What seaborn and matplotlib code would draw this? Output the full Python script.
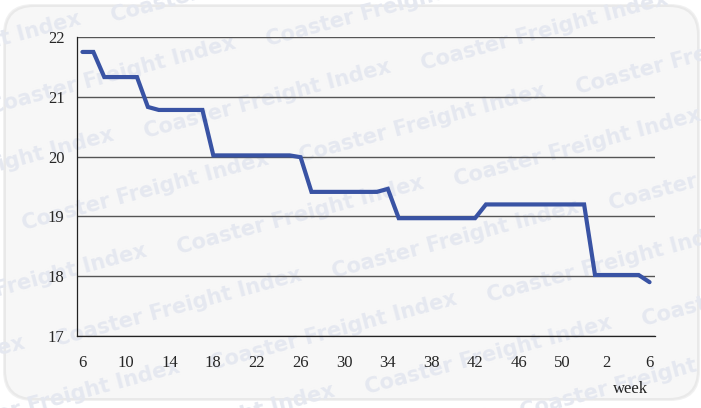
import matplotlib
matplotlib.use("Agg")
import matplotlib.pyplot as plt
from matplotlib.patches import FancyBboxPatch
import pandas as pd
import seaborn as sns

# Week numbers: week 6 of one year through week 6 of the next
weeks = [6, 7, 8, 9, 10, 11, 12, 13, 14, 15, 16, 17, 18, 19, 20, 21, 22, 23, 24,
         25, 26, 27, 28, 29, 30, 31, 32, 33, 34, 35, 36, 37, 38, 39, 40, 41, 42,
         43, 44, 45, 46, 47, 48, 49, 50, 51, 52, 1, 2, 3, 4, 5, 6]

# Weekly index value
index_values = [21.75, 21.75, 21.33, 21.33, 21.33, 21.33, 20.83, 20.78, 20.78,
                20.78, 20.78, 20.78, 20.02, 20.02, 20.02, 20.02, 20.02, 20.02,
                20.02, 20.02, 19.99, 19.41, 19.41, 19.41, 19.41, 19.41, 19.41,
                19.41, 19.46, 18.97, 18.97, 18.97, 18.97, 18.97, 18.97, 18.97,
                18.97, 19.20, 19.20, 19.20, 19.20, 19.20, 19.20, 19.20, 19.20,
                19.20, 19.20, 18.02, 18.02, 18.02, 18.02, 18.02, 17.90]

y_ticks = [17, 18, 19, 20, 21, 22]
label_step = 4

W, H = 701, 408
df = pd.DataFrame({"pos": range(len(weeks)), "week": weeks, "value": index_values})

sns.set_style("white")
plt.rcParams["font.family"] = ["Liberation Serif", "DejaVu Serif"]

fig = plt.figure(figsize=(W / 100, H / 100), dpi=100)
fig.patch.set_facecolor("white")

# Rounded panel with a soft rim
for grow, col in [(4, "#f1f1f1"), (2, "#e9e9e9")]:
    rim = FancyBboxPatch((5 - grow / 2, 9 - grow / 2), 693 + grow, 393 + grow,
                         boxstyle="round,pad=0,rounding_size=30",
                         transform=None, facecolor=col, edgecolor="none",
                         zorder=-3)
    fig.patches.append(rim)
panel = FancyBboxPatch((6, 10), 691, 391,
                       boxstyle="round,pad=0,rounding_size=28",
                       transform=None, facecolor="#f7f7f7", edgecolor="none",
                       zorder=-2)
fig.patches.append(panel)

# Repeated watermark text on a slanted lattice (pixel units, y downward)
c0 = (112, 75)
A = (155, 24)
B = (-122, 92)
for m in range(-8, 9):
    for n in range(-8, 9):
        cx = c0[0] + m * A[0] + n * B[0]
        cy = c0[1] + m * A[1] + n * B[1]
        if -180 < cx < W + 180 and -70 < cy < H + 70:
            t = fig.text(cx / W, 1 - cy / H, "Coaster Freight Index",
                         rotation=15, ha="center", va="center",
                         fontsize=15, fontweight="bold",
                         family="DejaVu Sans", color="#e5e8f0", zorder=-1)
            t.set_clip_path(panel)

ax = fig.add_axes([77 / W, 1 - 336 / H, (655 - 77) / W, (336 - 37) / H])
ax.patch.set_alpha(0)

sns.lineplot(data=df, x="pos", y="value", ax=ax, color="#3953a4",
             linewidth=3.0, solid_joinstyle="miter", zorder=5)

n = len(weeks)
ax.set_xlim(-0.5, n - 0.5)
ax.set_ylim(17, 22)

ax.set_yticks(y_ticks)
ax.set_yticklabels([str(v) for v in y_ticks], fontsize=12)
ax.grid(axis="y", color="#555555", linewidth=1.0)
ax.grid(axis="x", visible=False)

major_pos = list(range(0, n, label_step))
ax.set_xticks(major_pos)
ax.set_xticklabels([str(weeks[i]) for i in major_pos], fontsize=12)
ax.set_xticks([p - 0.5 for p in range(n + 1)], minor=True)
ax.tick_params(axis="x", which="major", length=0, pad=14)
ax.tick_params(axis="x", which="minor", length=4, width=0.8, color="#222222",
               direction="out")
ax.tick_params(axis="y", which="major", length=5, width=0.8, color="#222222",
               direction="out", pad=4)

for side in ["top", "right"]:
    ax.spines[side].set_visible(False)
for side in ["left", "bottom"]:
    ax.spines[side].set_color("#222222")
    ax.spines[side].set_linewidth(0.9)

ax.set_xlabel("")
ax.set_ylabel("")
fig.text(648 / W, 1 - 389 / H, "week", ha="right", va="center", fontsize=12,
         color="#222222")

fig.savefig("out.png", dpi=100, facecolor=fig.get_facecolor())
